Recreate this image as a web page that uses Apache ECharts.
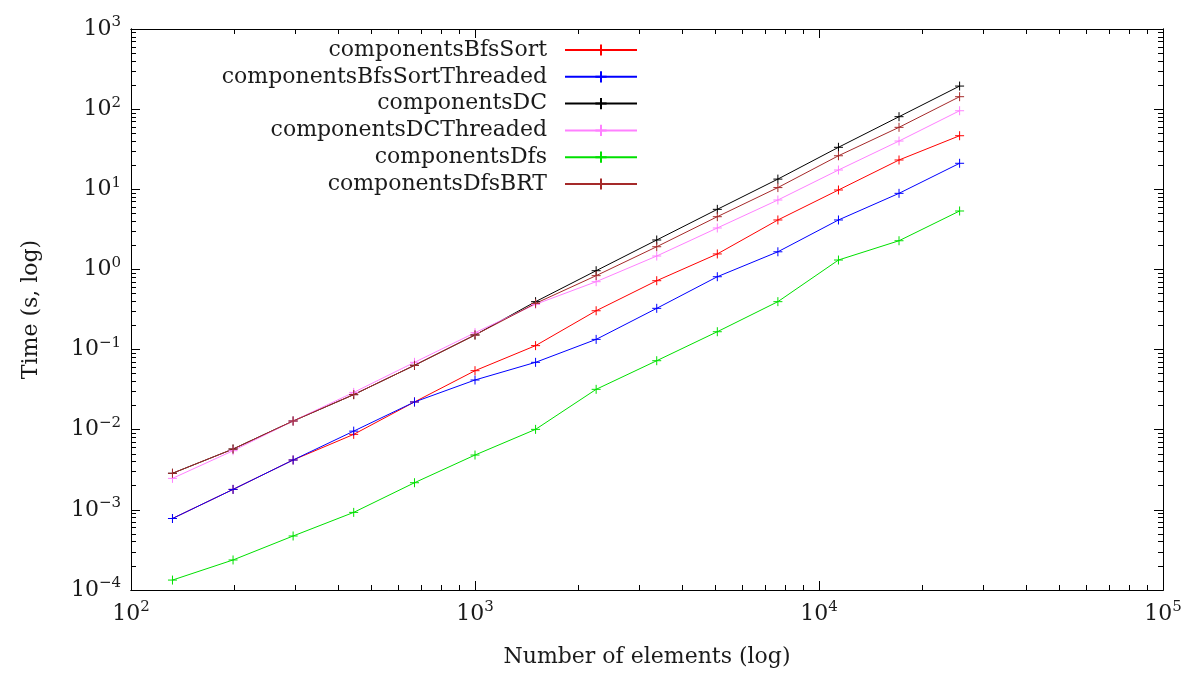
<!DOCTYPE html>
<html>
<head>
<meta charset="utf-8">
<script src="https://cdn.jsdelivr.net/npm/echarts@6/dist/echarts.min.js"></script>
<style>
  html, body { margin: 0; padding: 0; background: #fff; }
  #chart { width: 1185px; height: 673px; }
</style>
</head>
<body>
<div id="chart"></div>
<script>
  // number of elements (x)
  var sizes = [132, 198, 296, 444, 667, 1000, 1500, 2250, 3375, 5063, 7594, 11391, 17086, 25629];

  // time in seconds, one array per algorithm
  var bfsSort = [7.8e-4, 1.8e-3, 4.19e-3, 8.75e-3, 0.0222, 0.0545, 0.112, 0.305, 0.723, 1.56, 4.14, 9.8, 23.2, 46.6];
  var bfsSortThreaded = [7.8e-4, 1.8e-3, 4.19e-3, 9.6e-3, 0.0222, 0.0417, 0.0693, 0.134, 0.327, 0.811, 1.66, 4.14, 8.9, 21.1];
  var dc = [2.86e-3, 5.74e-3, 0.01285, 0.0274, 0.0636, 0.152, 0.396, 0.964, 2.33, 5.62, 13.4, 33.4, 80.5, 194];
  var dcThreaded = [2.47e-3, 5.47e-3, 0.01285, 0.0292, 0.0693, 0.1625, 0.367, 0.703, 1.47, 3.29, 7.35, 17.4, 40, 95.5];
  var dfs = [1.33e-4, 2.37e-4, 4.72e-4, 9.3e-4, 2.18e-3, 4.83e-3, 0.0101, 0.0319, 0.0726, 0.167, 0.396, 1.31, 2.28, 5.36];
  var dfsBRT = [2.86e-3, 5.74e-3, 0.01285, 0.0274, 0.0636, 0.152, 0.377, 0.836, 1.92, 4.55, 10.5, 26.2, 59.3, 143];

  var seriesNames = ['componentsBfsSort', 'componentsBfsSortThreaded', 'componentsDC', 'componentsDCThreaded', 'componentsDfs', 'componentsDfsBRT'];
  var seriesValues = [bfsSort, bfsSortThreaded, dc, dcThreaded, dfs, dfsBRT];
  var seriesColors = ['#ff0000', '#0000ff', '#000000', '#ff80ff', '#00e000', '#a52a2a'];

  // tick positions
  var xMajor = [100, 1000, 10000, 100000];
  var xMinor = [200, 300, 400, 500, 600, 700, 800, 900, 2000, 3000, 4000, 5000, 6000, 7000, 8000, 9000,
    20000, 30000, 40000, 50000, 60000, 70000, 80000, 90000];
  var yMajor = [1e-4, 1e-3, 1e-2, 1e-1, 1, 10, 100, 1000];
  var yMinor = [];
  for (var d = -4; d < 3; d++) {
    [2, 3, 4, 5, 6, 7, 8, 9].forEach(function (m) { yMinor.push(+(m * Math.pow(10, d)).toPrecision(3)); });
  }

  var fontFamily = 'DejaVu Serif';
  var fontSize = 22;
  var textColor = '#1a1a1a';

  var myChart = echarts.init(document.getElementById('chart'), null, { renderer: 'canvas' });

  function powLabel(v) {
    var e = Math.round(Math.log10(v));
    return '{b|10}{s|' + (e < 0 ? '\u2212' + (-e) : e) + '}';
  }
  var richPow = {
    b: { fontFamily: fontFamily, fontSize: fontSize, color: textColor, lineHeight: 28 },
    s: { fontFamily: fontFamily, fontSize: 15, color: textColor, lineHeight: 16, verticalAlign: 'top' }
  };

  function tickAxis(kind, pos, values, len, labels) {
    var isX = kind === 'x';
    return {
      type: 'log',
      logBase: 10,
      min: isX ? 100 : 1e-4,
      max: isX ? 100000 : 1000,
      position: pos,
      gridIndex: 0,
      axisLine: { show: true, onZero: false, lineStyle: { color: '#000', width: 1 } },
      axisTick: { show: true, inside: true, length: len, customValues: values, lineStyle: { color: '#000', width: 1 } },
      axisLabel: labels ? {
        show: true, customValues: values, margin: 10,
        formatter: powLabel, rich: richPow
      } : { show: false },
      splitLine: { show: false },
      minorTick: { show: false }
    };
  }

  var xAxes = [
    tickAxis('x', 'bottom', xMajor, 9, true),
    tickAxis('x', 'bottom', xMinor, 5, false),
    tickAxis('x', 'top', xMajor, 9, false),
    tickAxis('x', 'top', xMinor, 5, false)
  ];
  xAxes[0].name = 'Number of elements (log)';
  xAxes[0].nameLocation = 'middle';
  xAxes[0].nameGap = 56;
  xAxes[0].nameTextStyle = { fontFamily: fontFamily, fontSize: fontSize, color: textColor };

  var yAxes = [
    tickAxis('y', 'left', yMajor, 9, true),
    tickAxis('y', 'left', yMinor, 5, false),
    tickAxis('y', 'right', yMajor, 9, false),
    tickAxis('y', 'right', yMinor, 5, false)
  ];
  yAxes[0].name = 'Time (s, log)';
  yAxes[0].nameLocation = 'middle';
  yAxes[0].nameGap = 89;
  yAxes[0].nameTextStyle = { fontFamily: fontFamily, fontSize: fontSize, color: textColor };

  var plusSymbol = 'path://M0,5L10,5M5,0L5,10';

  var series = seriesNames.map(function (name, i) {
    return {
      name: name,
      type: 'line',
      xAxisIndex: 0,
      yAxisIndex: 0,
      data: sizes.map(function (x, j) { return [x, seriesValues[i][j]]; }),
      symbol: plusSymbol,
      symbolSize: 9,
      showSymbol: true,
      lineStyle: { color: seriesColors[i], width: 1 },
      itemStyle: { color: 'none', borderColor: seriesColors[i], borderWidth: 1 },
      emphasis: { disabled: true },
      animation: false
    };
  });

  var option = {
    backgroundColor: '#fff',
    animation: false,
    grid: { left: 131, right: 22, top: 29, bottom: 83, show: false },
    legend: {
      orient: 'vertical',
      align: 'right',
      right: 547,
      top: 39,
      padding: 0,
      itemWidth: 72,
      itemHeight: 14,
      itemGap: 4.8,
      selectedMode: false,
      textStyle: { fontFamily: fontFamily, fontSize: fontSize, color: textColor, lineHeight: 20, padding: [0, 13, 0, 0] },
      data: seriesNames
    },
    xAxis: xAxes,
    yAxis: yAxes,
    series: series
  };

  if (option && typeof option === 'object') {
    myChart.setOption(option);
  }

  window.addEventListener('resize', myChart.resize);
</script>
</body>
</html>
